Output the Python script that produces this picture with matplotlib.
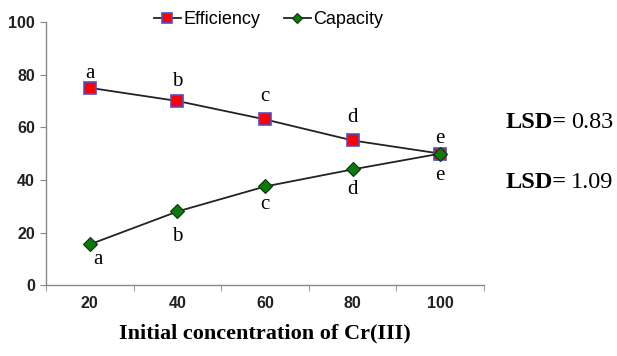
import numpy as np
import matplotlib.pyplot as plt

# data
concentration = ["20", "40", "60", "80", "100"]
efficiency = [75, 70, 63, 55, 50]
capacity = [15.5, 28, 37.5, 44, 50]
eff_letters = ["a", "b", "c", "d", "e"]
cap_letters = ["a", "b", "c", "d", "e"]
lsd_values = ["0.83", "1.09"]

# label offsets in pixels (layout only)
eff_off = [(0, 10), (0, 15), (0, 18), (0, 18), (0, 11)]
cap_off = [(8, -20), (0, -30), (0, -23), (0, -25), (0, -26)]

fig = plt.figure(figsize=(6.17, 3.56), dpi=100)
ax = fig.add_axes([0.0746, 0.199, 0.71, 0.739])

x = np.arange(len(concentration))
ax.plot(x, efficiency, color="#222222", lw=1.3, marker="s", ms=9,
        mfc="#ff0000", mec="#5050c8", mew=1.2, label="Efficiency")
ax.plot(x, capacity, color="#222222", lw=1.3, marker="D", ms=7,
        mfc="#0a7a0a", mec="#103010", mew=0.8, label="Capacity")

serif = "Liberation Serif"
for i in range(len(x)):
    ax.annotate(eff_letters[i], (x[i], efficiency[i]), xytext=eff_off[i],
                textcoords="offset pixels", ha="center", va="baseline",
                family=serif, fontsize=15)
    ax.annotate(cap_letters[i], (x[i], capacity[i]), xytext=cap_off[i],
                textcoords="offset pixels", ha="center", va="baseline",
                family=serif, fontsize=15)

tick_font = {"family": "Liberation Sans", "weight": "bold", "size": 11.5,
             "color": "#222222"}
ax.set_xlim(-0.5, 4.5)
ax.set_ylim(0, 100)
yt = [0, 20, 40, 60, 80, 100]
ax.set_yticks(yt)
ax.set_yticklabels([str(v) for v in yt], fontdict=tick_font)
ax.set_xticks(x)
ax.set_xticklabels(concentration, fontdict=tick_font)
ax.set_xticks(np.arange(-0.5, 5, 1), minor=True)
ax.tick_params(axis="x", which="major", length=0, pad=8)
ax.tick_params(axis="x", which="minor", length=4, color="#888888")
ax.tick_params(axis="y", length=4, color="#888888", pad=4)

for s in ["top", "right"]:
    ax.spines[s].set_visible(False)
for s in ["left", "bottom"]:
    ax.spines[s].set_color("#888888")
    ax.spines[s].set_linewidth(1.0)

ax.set_xlabel("Initial concentration of Cr(III)", family=serif,
              fontweight="bold", fontsize=16, labelpad=9)

leg = ax.legend(loc="center", bbox_to_anchor=(0.508, 1.01), ncol=2, frameon=False,
                prop={"family": "Liberation Sans", "size": 13},
                handlelength=1.5, handletextpad=0.15, columnspacing=1.3,
                markerscale=0.8)

# LSD annotations to the right of the plot
lsd_y = [123, 182]
for val, py in zip(lsd_values, lsd_y):
    fig.text(506 / 617, 1 - py / 356, "LSD=", family=serif,
             fontweight="bold", fontsize=17.5, va="center", ha="left")
    fig.text(571 / 617, 1 - py / 356, val, family=serif,
             fontsize=17.5, va="center", ha="left")

fig.savefig("out.png", dpi=100)
